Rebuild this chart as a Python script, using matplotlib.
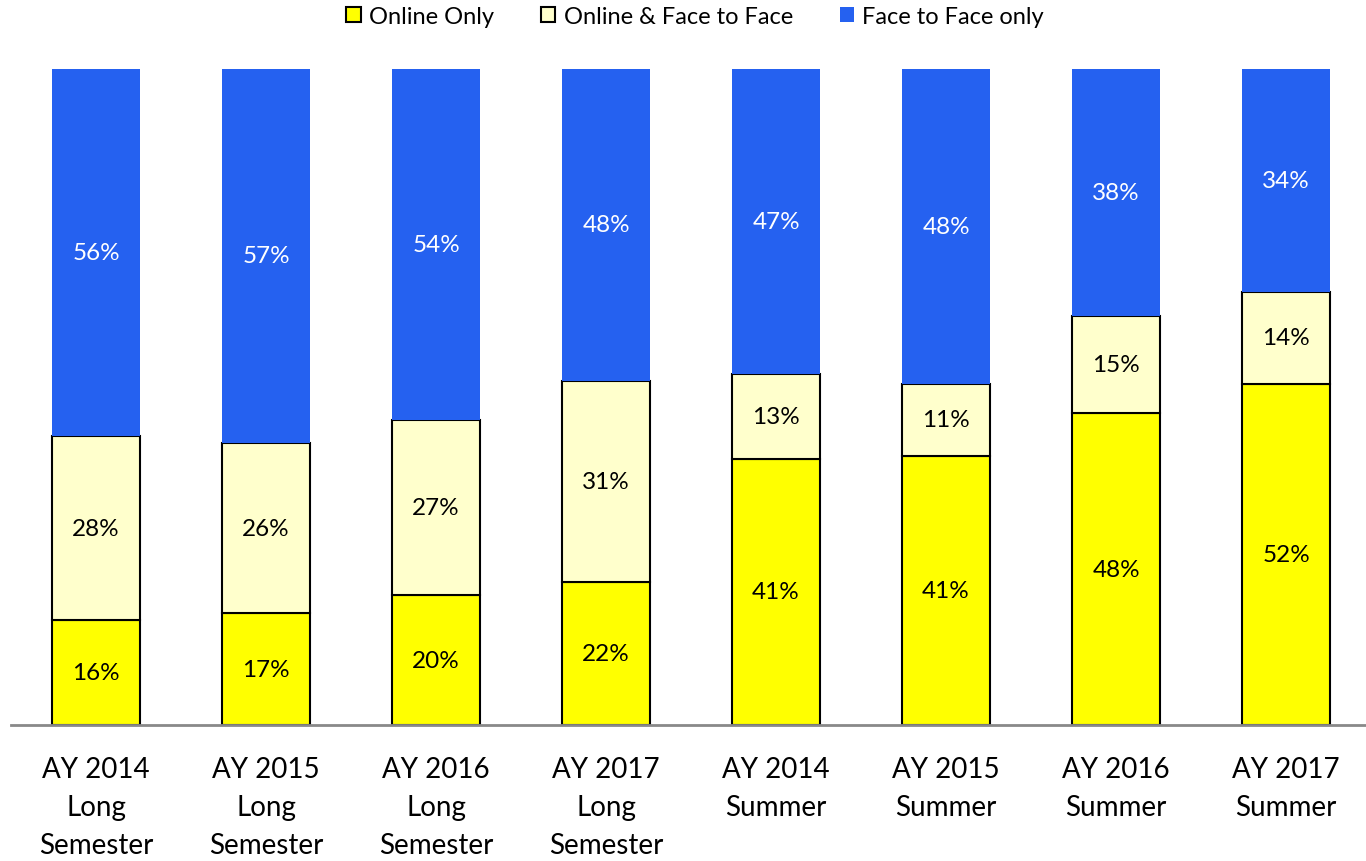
import matplotlib.pyplot as plt
import numpy as np

plt.rcParams['font.family'] = ['Lato', 'DejaVu Sans']

categories = ['AY 2014\nLong\nSemester', 'AY 2015\nLong\nSemester', 'AY 2016\nLong\nSemester',
              'AY 2017\nLong\nSemester', 'AY 2014\nSummer', 'AY 2015\nSummer',
              'AY 2016\nSummer', 'AY 2017\nSummer']
online_only = np.array([16, 17, 20, 22, 41, 41, 48, 52])
online_f2f = np.array([28, 26, 27, 31, 13, 11, 15, 14])
f2f_only = np.array([56, 57, 54, 48, 47, 48, 38, 34])

# 100% stacked: normalise each column
total = online_only + online_f2f + f2f_only
p1 = online_only / total
p2 = online_f2f / total
p3 = f2f_only / total

fig = plt.figure(figsize=(13.66, 8.62), dpi=100)
ax = fig.add_axes([11 / 1366, 136 / 862, 1355 / 1366, 656 / 862])

x = np.arange(len(categories))
w = 0.52
b1 = ax.bar(x, p1, w, color='#FFFF00', edgecolor='black', linewidth=1.5, label='Online Only')
b2 = ax.bar(x, p2, w, bottom=p1, color='#FFFFCC', edgecolor='black', linewidth=1.5,
            label='Online & Face to Face')
b3 = ax.bar(x, p3, w, bottom=p1 + p2, color='#2561F0', linewidth=0, label='Face to Face only')

for bars, vals, col in [(b1, online_only, 'black'), (b2, online_f2f, 'black'), (b3, f2f_only, 'white')]:
    ax.bar_label(bars, labels=[f'{v}%' for v in vals], label_type='center',
                 color=col, fontsize=17.5)

ax.set_xlim(-0.5, 7.47)
ax.set_ylim(0, 1)
ax.set_xticks(x)
ax.set_xticklabels(categories, fontsize=20, linespacing=1.58)
ax.tick_params(axis='x', length=0, pad=22)
ax.set_yticks([])
for s in ['top', 'right', 'left']:
    ax.spines[s].set_visible(False)
ax.spines['bottom'].set_color('#898989')
ax.spines['bottom'].set_linewidth(2)

fig.legend(handles=[b1, b2, b3], loc='center', bbox_to_anchor=(0.509, 1 - 17 / 862),
           ncol=3, frameon=False, fontsize=17, handlelength=0.6, handleheight=0.6,
           handletextpad=0.35, columnspacing=2.0)

fig.savefig('out.png', dpi=100)
